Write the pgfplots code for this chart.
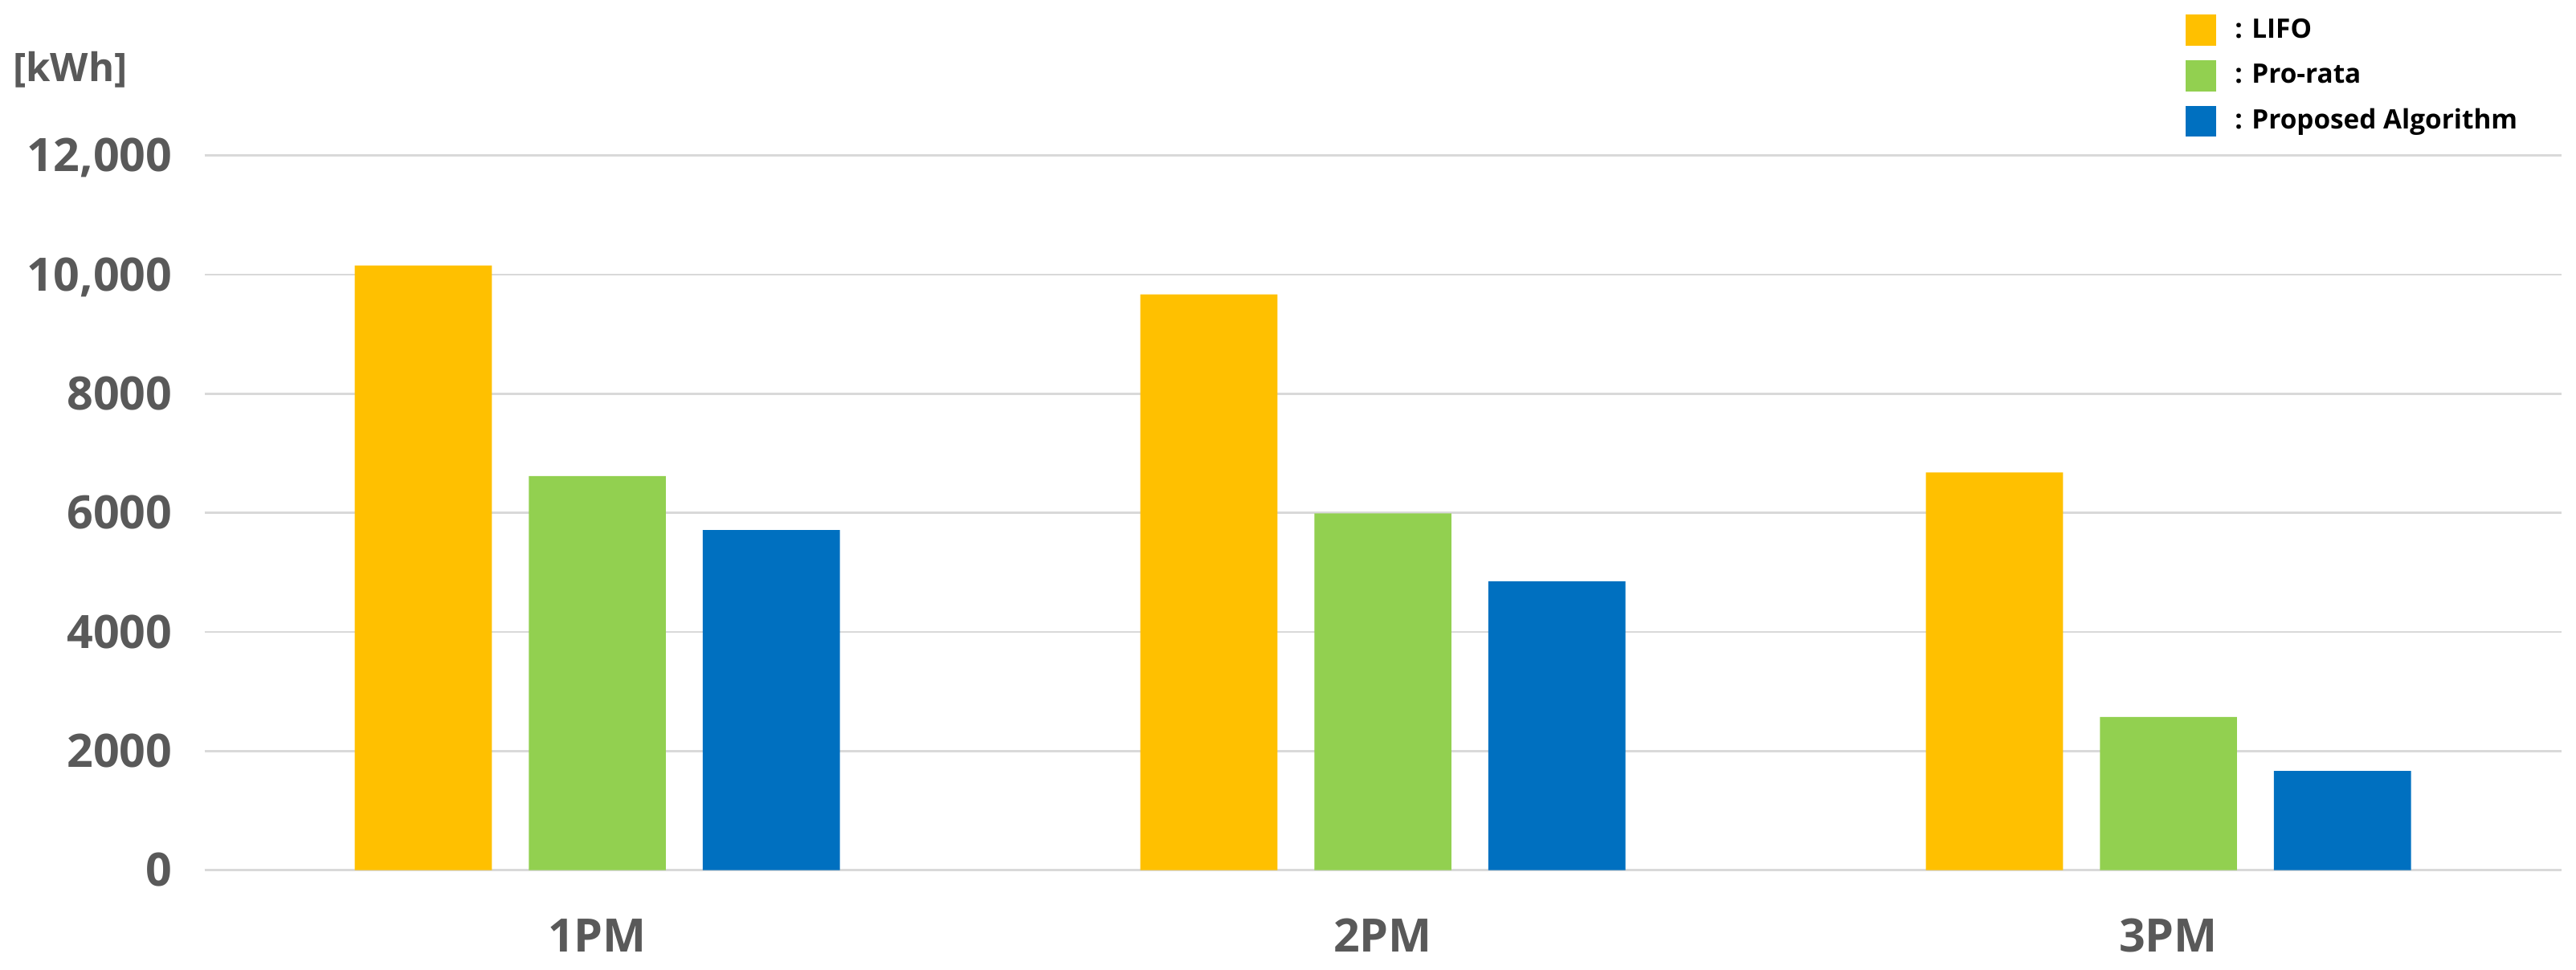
\documentclass[border=0pt]{standalone}
\usepackage{fontspec}
\setmainfont{Open Sans}
\usepackage{pgfplots}
\pgfplotsset{compat=1.18}
\definecolor{lifo}{HTML}{FFC000}
\definecolor{prorata}{HTML}{92D050}
\definecolor{proposed}{HTML}{0070C0}
\definecolor{gridc}{HTML}{D9D9D9}
\definecolor{labelc}{HTML}{595959}

\begin{document}
\begin{tikzpicture}
\useasboundingbox (-38.19pt,-18.53pt) rectangle (442.86pt,162.53pt);
\begin{axis}[
  at={(0pt,0pt)}, anchor=south west,
  width=440.1pt, height=133.5pt, scale only axis,
  xmin=-0.5, xmax=2.5, ymin=0, ymax=12000,
  ybar, bar width=0.1745,
  xtick={0,1,2}, xticklabels={1PM,2PM,3PM},
  ytick={0,2000,4000,6000,8000,10000,12000},
  yticklabels={0,2000,4000,6000,8000,{10,000},{12,000}},
  scaled y ticks=false,
  tick style={draw=none},
  ymajorgrids, grid style={gridc, line width=0.4pt},
  axis x line*=bottom, axis y line*=left,
  x axis line style={gridc, line width=0.4pt},
  y axis line style={draw=none},
  tick label style={font=\fontsize{8.6}{10}\selectfont\bfseries, text=labelc, inner sep=0pt},
  yticklabel style={anchor=base east, xshift=-5.85pt, yshift=-3.07pt},
  xticklabel style={anchor=base, yshift=-11.1pt},
  legend style={at={(0.8405,1.1968)}, anchor=north west, draw=none, fill=none,
    inner sep=0pt, outer sep=0pt, row sep=2.7pt, column sep=3.45pt,
    font=\fontsize{5}{6}\selectfont\bfseries,
    nodes={inner sep=0pt, text height=4.3pt, text depth=1.5pt},
    cells={anchor=base west}},
  legend image code/.code={\fill[#1] (0pt,-1.5pt) rectangle (5.8pt,4.3pt);},
]
\addplot[fill=lifo, draw=none, bar shift=-0.2215] coordinates {(0,10150) (1,9665) (2,6675)};
\addlegendentry{: LIFO}
\addplot[fill=prorata, draw=none, bar shift=0] coordinates {(0,6615) (1,5990) (2,2570)};
\addlegendentry{: Pro-rata}
\addplot[fill=proposed, draw=none, bar shift=0.2215] coordinates {(0,5710) (1,4850) (2,1665)};
\addlegendentry{: Proposed Algorithm}
\end{axis}
\node[anchor=base west, font=\fontsize{7.35}{9}\selectfont\bfseries, text=labelc, inner sep=0pt] at (-35.94pt,147.3pt) {[kWh]};
\end{tikzpicture}
\end{document}
